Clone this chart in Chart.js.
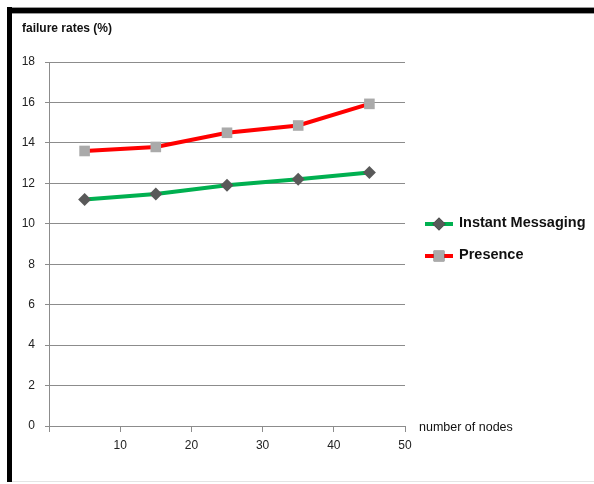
<!DOCTYPE html>
<html>
<head>
<meta charset="utf-8">
<script src="https://cdn.jsdelivr.net/npm/chart.js@4/dist/chart.umd.min.js"></script>
<style>
  html, body { margin: 0; padding: 0; background: #fff; }
  #wrap { position: relative; width: 594px; height: 484px; overflow: hidden; }
  #topbar { position: absolute; left: 7px; top: 7px; width: 587px; height: 7px; background: #000; border-top: 1px solid #999; border-bottom: 1px solid #999; box-sizing: border-box; }
  #leftbar { position: absolute; left: 7px; top: 7px; width: 5px; height: 475px; background: #000; }
  #bottomline { position: absolute; left: 12px; top: 481px; width: 582px; height: 1px; background: #e4e4e4; }
  canvas { position: absolute; left: 0; top: 0; }
</style>
</head>
<body>
<div id="wrap">
  <div id="topbar"></div>
  <div id="leftbar"></div>
  <div id="bottomline"></div>
  <canvas id="c" width="594" height="484"></canvas>
</div>
<script>
const nodes = [5, 15, 25, 35, 45];
const instantMessaging = [11.2, 11.47, 11.9, 12.2, 12.53];
const presence = [13.6, 13.8, 14.5, 14.86, 15.93];
const seriesNames = ['Instant Messaging', 'Presence'];
const yTitle = 'failure rates (%)';
const xTitle = 'number of nodes';

const fam = '"Liberation Sans", Arial, sans-serif';

const extrasPlugin = {
  id: 'extras',
  afterDraw(chart) {
    const ctx = chart.ctx;
    const area = chart.chartArea;
    ctx.save();
    ctx.fillStyle = '#111';
    ctx.textBaseline = 'middle';
    ctx.textAlign = 'left';
    ctx.font = 'bold 12px ' + fam;
    ctx.fillText(yTitle, 22, 29);
    ctx.font = '12.5px ' + fam;
    ctx.fillText(xTitle, 419, area.bottom + 2);
    const ys = [223, 255];
    chart.data.datasets.forEach((ds, i) => {
      const y = ys[i];
      ctx.strokeStyle = ds.borderColor;
      ctx.lineWidth = 4;
      ctx.beginPath();
      ctx.moveTo(425, y + 1);
      ctx.lineTo(453, y + 1);
      ctx.stroke();
      Chart.helpers.drawPoint(ctx, {
        pointStyle: ds.pointStyle,
        radius: ds.pointRadius,
        rotation: 0,
        borderWidth: 0
      }, 439, y + 1);
      ctx.fillStyle = ds.pointBackgroundColor;
      ctx.fill();
      ctx.fillStyle = '#111';
      ctx.font = 'bold 14.5px ' + fam;
      ctx.fillText(ds.label, 459, y);
    });
    ctx.restore();
  }
};

new Chart(document.getElementById('c'), {
  type: 'line',
  data: {
    datasets: [
      {
        label: seriesNames[0],
        data: nodes.map((x, i) => ({ x: x, y: instantMessaging[i] })),
        borderColor: '#00b050',
        borderWidth: 4,
        pointStyle: 'rectRot',
        pointRadius: 6.5,
        pointBackgroundColor: '#595959',
        pointBorderColor: '#595959',
        pointBorderWidth: 0,
        tension: 0
      },
      {
        label: seriesNames[1],
        data: nodes.map((x, i) => ({ x: x, y: presence[i] })),
        borderColor: '#ff0000',
        borderWidth: 4,
        pointStyle: 'rect',
        pointRadius: 7.5,
        pointBackgroundColor: '#aaaaaa',
        pointBorderColor: '#aaaaaa',
        pointBorderWidth: 0,
        tension: 0
      }
    ]
  },
  options: {
    responsive: false,
    animation: false,
    layout: { padding: { left: 0, right: 189, top: 62, bottom: 0 } },
    plugins: { legend: { display: false }, tooltip: { enabled: false }, title: { display: false } },
    scales: {
      x: {
        type: 'linear',
        min: 0, max: 50,
        ticks: { stepSize: 10, color: '#222', font: { family: fam, size: 12 }, padding: 6,
          callback: v => v === 0 ? '' : v },
        grid: { display: true, drawOnChartArea: false, drawTicks: true, tickLength: 6, color: '#8c8c8c', lineWidth: 1 },
        border: { color: '#8c8c8c', width: 1 },
        afterFit(scale) { scale.height = 58; }
      },
      y: {
        min: 0, max: 18,
        ticks: { stepSize: 2, color: '#222', font: { family: fam, size: 12 }, padding: 10 },
        grid: { color: '#8c8c8c', lineWidth: 1, tickLength: 4 },
        border: { color: '#8c8c8c', width: 1 },
        afterFit(scale) { scale.width = 49; }
      }
    }
  },
  plugins: [extrasPlugin]
});
</script>
</body>
</html>
